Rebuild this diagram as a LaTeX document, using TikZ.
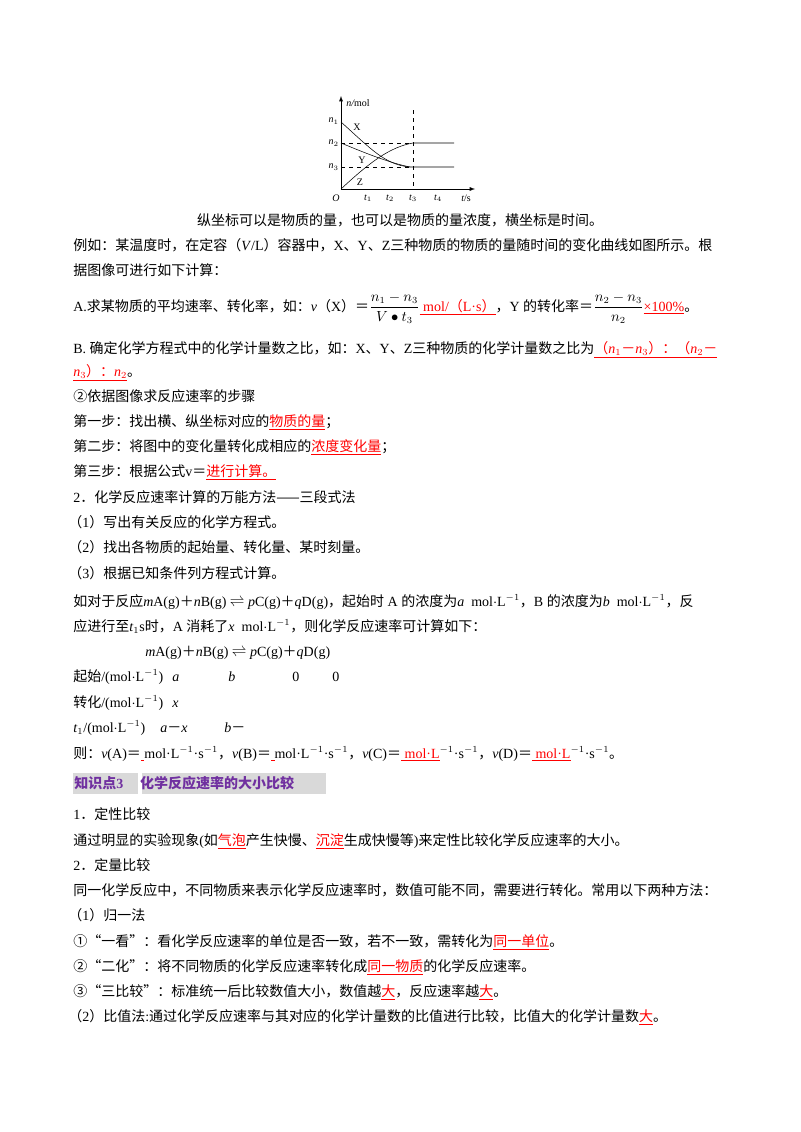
\documentclass[tikz,border=0pt]{standalone}
\usepackage{amsmath}
\usepackage{fontspec}
\setmainfont{Liberation Serif}
\newfontfamily\cjkf{Noto Sans CJK SC}
\newcommand\latf{\rmfamily}
\XeTeXinterchartokenstate=1
\newXeTeXintercharclass\CJKc
\count255="2E80 \loop \XeTeXcharclass\count255=\CJKc \advance\count255 1 \ifnum\count255<"A000 \repeat
\count255="FF00 \loop \XeTeXcharclass\count255=\CJKc \advance\count255 1 \ifnum\count255<"FFF0 \repeat
\count255="2460 \loop \XeTeXcharclass\count255=\CJKc \advance\count255 1 \ifnum\count255<"2474 \repeat
\XeTeXcharclass"2014=\CJKc \XeTeXcharclass"201C=\CJKc \XeTeXcharclass"201D=\CJKc
\XeTeXinterchartoks 0 \CJKc={\cjkf}
\XeTeXinterchartoks \CJKc 0={\latf}
\XeTeXinterchartoks 4095 \CJKc={\cjkf}
\XeTeXinterchartoks \CJKc 4095={\latf}
\definecolor{hdr}{RGB}{112,48,160}
\definecolor{hbg}{RGB}{217,217,217}
\newcommand\ru[1]{\textcolor{red}{\underline{#1}}}
\newcommand\mL{mol$\cdot$L$^{-1}$}
\begin{document}
\begin{tikzpicture}[x=0.75pt,y=-0.75pt,
  t/.style={anchor=base west,inner sep=0,font=\fontsize{10.5}{12}\selectfont},
  g/.style={inner sep=0,font=\fontsize{7.5}{8}\selectfont\itshape},
  gu/.style={inner sep=0,font=\fontsize{7.5}{8}\selectfont}]
\useasboundingbox (0,0) rectangle (800,1132);
% graph
\coordinate (O) at (341,189);
\draw[-latex, thin] (O) -- (475,189);
\draw[-latex, thin] (O) -- (341,96);
\node[g] (nm) at (358,103) {n/\upshape mol};
\node[g,anchor=east] (n1) at (339,121) {n$_1$};
\node[g,anchor=east] (n2) at (339,143) {n$_2$};
\node[g,anchor=east] (n3) at (339,167) {n$_3$};
\node[g] (o) at (336,198) {O};
\node[g] (t1) at (368,198) {t$_1$};
\node[g] (t2) at (390,198) {t$_2$};
\node[g] (t3) at (413,198) {t$_3$};
\node[g] (t4) at (438,198) {t$_4$};
\node[g] (ts) at (466,198) {t\upshape/s};
\node[gu] (X) at (357,127) {X};
\node[gu] (Y) at (362,160) {Y};
\node[gu] (Z) at (360,182) {Z};
\draw[dashed,thin] (341,143) -- (413,143) (341,167) -- (413,167) (413,110) -- (413,189);
\draw[thin] (341,122) .. controls (370,148) and (385,165) .. (410,167) -- (454,167);
\draw[thin] (341,143) .. controls (365,153) and (390,163) .. (410,167);
\draw[thin] (341,189) .. controls (370,162) and (390,147) .. (413,143) -- (454,143);
% text
\node[t,anchor=base] (c0) at (400,225) {纵坐标可以是物质的量，也可以是物质的量浓度，横坐标是时间。};
\node[t] (l1) at (73,250) {例如：某温度时，在定容（\textit{V}/L）容器中，X、Y、Z三种物质的物质的量随时间的变化曲线如图所示。根};
\node[t] (l2) at (73,275) {据图像可进行如下计算：};
\node[t] (l3) at (73,311) {A.求某物质的平均速率、转化率，如：\textit{v}（X）＝$\dfrac{n_1-n_3}{V\bullet t_3}$\ru{ mol/（L·s）}，Y 的转化率＝$\dfrac{n_2-n_3}{n_2}$\ru{×100\%}。};
\node[t] (l4) at (73,353) {B. 确定化学方程式中的化学计量数之比，如：X、Y、Z三种物质的化学计量数之比为\ru{（\textit{n}$_1$－\textit{n}$_3$）：（\textit{n}$_2$－}};
\node[t] (l5) at (73,376) {\ru{\textit{n}$_3$）：\textit{n}$_2$}。};
\node[t] (l6) at (73,401) {②依据图像求反应速率的步骤};
\node[t] (l7) at (73,426) {第一步：找出横、纵坐标对应的\ru{物质的量}；};
\node[t] (l8) at (73,451) {第二步：将图中的变化量转化成相应的\ru{浓度变化量}；};
\node[t] (l9) at (73,476) {第三步：根据公式v＝\ru{进行计算。}};
\node[t] (l10) at (73,502) {2．化学反应速率计算的万能方法——三段式法};
\node[t] (l11) at (68,527) {（1）写出有关反应的化学方程式。};
\node[t] (l12) at (68,552) {（2）找出各物质的起始量、转化量、某时刻量。};
\node[t] (l13) at (68,578) {（3）根据已知条件列方程式计算。};
\node[t] (l14) at (73,606) {如对于反应\textit{m}A(g)＋\textit{n}B(g) $\rightleftharpoons$ \textit{p}C(g)＋\textit{q}D(g)，起始时 A 的浓度为\textit{a}\ \ \mL，B 的浓度为\textit{b}\ \ \mL，反};
\node[t] (l15) at (73,631) {应进行至\textit{t}$_1$s时，A 消耗了\textit{x}\ \ \mL，则化学反应速率可计算如下：};
\node[t] (l16) at (145,656) {\textit{m}A(g)＋\textit{n}B(g) $\rightleftharpoons$ \textit{p}C(g)＋\textit{q}D(g)};
\node[t] (r1) at (73,681) {起始/(\mL)};
\node[t] (r1a) at (172,681) {\textit{a}};
\node[t] (r1b) at (228,681) {\textit{b}};
\node[t] (r1c) at (292,681) {0};
\node[t] (r1d) at (332,681) {0};
\node[t] (r2) at (73,707) {转化/(\mL)};
\node[t] (r2a) at (172,707) {\textit{x}};
\node[t] (r3) at (73,732) {\textit{t}$_1$/(\mL)};
\node[t] (r3a) at (160,732) {\textit{a}－\textit{x}};
\node[t] (r3b) at (224,732) {\textit{b}－};
\node[t] (l17) at (73,758) {则：\textit{v}(A)＝\ru{\ }mol·L$^{-1}$·s$^{-1}$，\textit{v}(B)＝\ru{\ }mol·L$^{-1}$·s$^{-1}$，\textit{v}(C)＝\ru{\ mol·L}$^{-1}$·s$^{-1}$，\textit{v}(D)＝\ru{\ mol·L}$^{-1}$·s$^{-1}$。};
\fill[hbg] (73,773) rectangle (138,794);
\fill[hbg] (142,773) rectangle (326,794);
\node[t,font=\fontsize{10.5}{12}\selectfont\bfseries,text=hdr] (h) at (74,788) {知识点3\hspace{1.2em}化学反应速率的大小比较};
\node[t] (m1) at (73,819) {1．定性比较};
\node[t] (m2) at (73,845) {通过明显的实验现象(如\ru{气泡}产生快慢、\ru{沉淀}生成快慢等)来定性比较化学反应速率的大小。};
\node[t] (m3) at (73,870) {2．定量比较};
\node[t] (m4) at (73,895) {同一化学反应中，不同物质来表示化学反应速率时，数值可能不同，需要进行转化。常用以下两种方法：};
\node[t] (m5) at (68,920) {（1）归一法};
\node[t] (m6) at (73,946) {①“一看”：看化学反应速率的单位是否一致，若不一致，需转化为\ru{同一单位}。};
\node[t] (m7) at (73,971) {②“二化”：将不同物质的化学反应速率转化成\ru{同一物质}的化学反应速率。};
\node[t] (m8) at (73,996) {③“三比较”：标准统一后比较数值大小，数值越\ru{大}，反应速率越\ru{大}。};
\node[t] (m9) at (68,1021) {（2）比值法:通过化学反应速率与其对应的化学计量数的比值进行比较，比值大的化学计量数\ru{大}。};
\end{tikzpicture}
\end{document}
